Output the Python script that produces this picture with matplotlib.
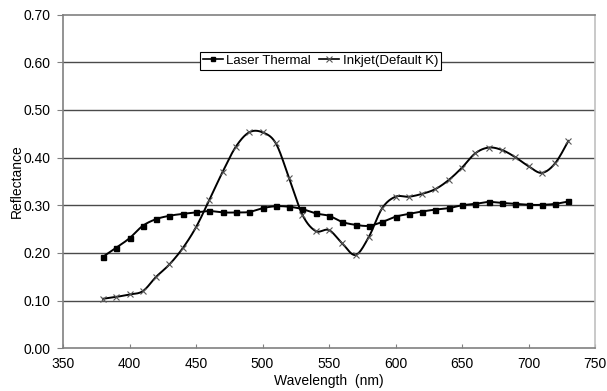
import numpy as np
import matplotlib
matplotlib.use("Agg")
import matplotlib.pyplot as plt
from matplotlib.lines import Line2D

wavelength = [380, 390, 400, 410, 420, 430, 440, 450, 460, 470, 480, 490, 500,
              510, 520, 530, 540, 550, 560, 570, 580, 590, 600, 610, 620, 630,
              640, 650, 660, 670, 680, 690, 700, 710, 720, 730]
laser_thermal = [0.192, 0.211, 0.231, 0.257, 0.271, 0.278, 0.282, 0.285, 0.288,
                 0.285, 0.285, 0.286, 0.294, 0.298, 0.297, 0.292, 0.283, 0.278,
                 0.265, 0.259, 0.257, 0.265, 0.276, 0.282, 0.287, 0.291, 0.294,
                 0.300, 0.303, 0.307, 0.305, 0.303, 0.301, 0.301, 0.303, 0.308]
inkjet = [0.104, 0.108, 0.113, 0.120, 0.150, 0.176, 0.210, 0.254, 0.311, 0.370,
          0.423, 0.453, 0.453, 0.430, 0.357, 0.280, 0.246, 0.248, 0.220, 0.196,
          0.234, 0.294, 0.318, 0.318, 0.324, 0.334, 0.353, 0.379, 0.409, 0.421,
          0.416, 0.401, 0.382, 0.368, 0.388, 0.435]
series_names = ["Laser Thermal", "Inkjet(Default K)"]
x_ticks = [350, 400, 450, 500, 550, 600, 650, 700, 750]
y_ticks = [0.0, 0.1, 0.2, 0.3, 0.4, 0.5, 0.6, 0.7]


def smooth(x, y, n=20):
    """Catmull-Rom style smoothing (as in spreadsheet 'smoothed line')."""
    x = np.asarray(x, float)
    y = np.asarray(y, float)
    px = np.concatenate([[x[0]], x, [x[-1]]])
    py = np.concatenate([[y[0]], y, [y[-1]]])
    xs, ys = [], []
    t = np.linspace(0, 1, n, endpoint=False)
    for i in range(1, len(px) - 2):
        p0x, p1x, p2x, p3x = px[i - 1], px[i], px[i + 1], px[i + 2]
        p0y, p1y, p2y, p3y = py[i - 1], py[i], py[i + 1], py[i + 2]
        c1x = p1x + (p2x - p0x) / 6
        c1y = p1y + (p2y - p0y) / 6
        c2x = p2x - (p3x - p1x) / 6
        c2y = p2y - (p3y - p1y) / 6
        b0 = (1 - t) ** 3
        b1 = 3 * (1 - t) ** 2 * t
        b2 = 3 * (1 - t) * t ** 2
        b3 = t ** 3
        xs.append(b0 * p1x + b1 * c1x + b2 * c2x + b3 * p2x)
        ys.append(b0 * p1y + b1 * c1y + b2 * c2y + b3 * p2y)
    xs.append([x[-1]])
    ys.append([y[-1]])
    return np.concatenate(xs), np.concatenate(ys)


plt.rcParams['font.family'] = ['Liberation Sans', 'DejaVu Sans']

fig = plt.figure(figsize=(6.07, 3.91), dpi=100)
ax = fig.add_axes([63 / 607, 1 - 348.4 / 391, (595 - 63) / 607, (348.4 - 14.5) / 391])

for yv in y_ticks[1:-1]:
    ax.axhline(yv, color='#4a4a4a', lw=1.0, zorder=1)

sx, sy = smooth(wavelength, laser_thermal)
ax.plot(sx, sy, color='black', lw=1.4, zorder=3)
ax.plot(wavelength, laser_thermal, ls='none', marker='s', ms=3.6, color='black', zorder=4)

sx, sy = smooth(wavelength, inkjet)
ax.plot(sx, sy, color='black', lw=1.4, zorder=3)
ax.plot(wavelength, inkjet, ls='none', marker='x', ms=4.5, mew=0.8, color='#555555', zorder=4)

ax.set_xlim(350, 750)
ax.set_ylim(0, 0.7)
ax.set_xticks(x_ticks)
ax.set_xticklabels([str(v) for v in x_ticks])
ax.set_yticks(y_ticks)
ax.set_yticklabels([f"{v:.2f}" for v in y_ticks])
ax.tick_params(axis='x', direction='in', length=3, color='#808080', labelsize=10, pad=6)
ax.tick_params(axis='y', direction='out', length=4, color='#808080', labelsize=10, pad=5)

ax.spines['left'].set_color('#808080')
ax.spines['bottom'].set_color('#808080')
ax.spines['top'].set_color('#808080')
ax.spines['right'].set_color('#c0c0c0')
for s in ax.spines.values():
    s.set_linewidth(1.2)

ax.set_xlabel("Wavelength  (nm)", fontsize=10, labelpad=2)
ax.set_ylabel("Reflectance", fontsize=10, labelpad=0)

handles = [
    Line2D([], [], color='black', lw=1.2, marker='s', ms=3.5),
    Line2D([], [], color='black', lw=1.2, marker='x', ms=4.5, mew=0.8, mec='#555555'),
]
leg = fig.legend(handles, series_names, loc='center', bbox_to_anchor=(0.528, 0.844),
                 ncol=2, fontsize=9.5, frameon=True, fancybox=False, framealpha=1,
                 edgecolor='black', handlelength=1.5, handletextpad=0.3,
                 columnspacing=0.6, borderpad=0.2, borderaxespad=0)
leg.get_frame().set_linewidth(0.8)

fig.savefig("out.png", dpi=100)
